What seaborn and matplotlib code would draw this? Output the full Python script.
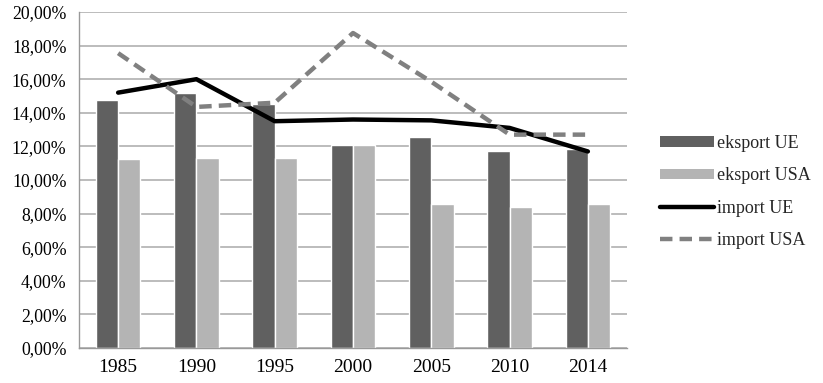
import numpy as np
import pandas as pd
import matplotlib
matplotlib.use("Agg")
import matplotlib.pyplot as plt
import seaborn as sns
from matplotlib.patches import Patch
from matplotlib.lines import Line2D
from matplotlib.ticker import FuncFormatter, FixedLocator

years = ["1985", "1990", "1995", "2000", "2005", "2010", "2014"]
eksport_ue = [14.76, 15.15, 14.5, 12.1, 12.55, 11.7, 11.85]
eksport_usa = [11.25, 11.3, 11.3, 12.1, 8.57, 8.4, 8.57]
import_ue = [15.2, 16.0, 13.5, 13.6, 13.55, 13.1, 11.7]
import_usa = [17.55, 14.35, 14.6, 18.75, 15.85, 12.7, 12.7]
labels = ["eksport UE", "eksport USA", "import UE", "import USA"]

sns.set_theme(style="white")
plt.rcParams["font.family"] = ["Liberation Serif", "DejaVu Serif"]

df = pd.DataFrame({
    "year": years * 2,
    "value": eksport_ue + eksport_usa,
    "series": [labels[0]] * len(years) + [labels[1]] * len(years),
})

fig = plt.figure(figsize=(8.23, 3.83), dpi=100)
ax = fig.add_axes([79 / 823, 1 - 348 / 383, (627 - 79) / 823, (348 - 12) / 383])

c_dark = "#606060"
c_light = "#b4b4b4"
sns.barplot(data=df, x="year", y="value", hue="series", order=years,
            hue_order=labels[:2], palette=[c_dark, c_light], width=0.57,
            gap=0, saturation=1, ax=ax, legend=False, zorder=2)

dash = [2.8, 1.6]
xpos = np.arange(len(years))
sns.lineplot(x=xpos, y=import_ue, color="black", linewidth=3.2, ax=ax, zorder=3)
sns.lineplot(x=xpos, y=import_usa, color="#808080", linewidth=3.2, ax=ax, zorder=3)
ax.lines[-1].set_dashes(dash)

ax.set_xlim(-0.5, len(years) - 0.5)
ax.set_ylim(0, 20)
ax.set_yticks(np.arange(0, 20.01, 2))
ax.yaxis.set_major_formatter(FuncFormatter(lambda v, p: f"{v:.2f}".replace(".", ",") + "%"))
ax.yaxis.grid(True, color="#b0b0b0", linewidth=1.2, zorder=0)
ax.set_axisbelow(True)
ax.set_xlabel("")
ax.set_ylabel("")

for s in ["top", "right"]:
    ax.spines[s].set_visible(False)
for s in ["left", "bottom"]:
    ax.spines[s].set_color("#999999")
    ax.spines[s].set_linewidth(1.0)

ax.tick_params(axis="x", which="major", length=0, pad=8, labelsize=14, colors="black")
ax.xaxis.set_minor_locator(FixedLocator(np.arange(-0.5, len(years), 1)))
ax.tick_params(axis="x", which="minor", length=6, color="#999999", width=1, direction="out")
ax.tick_params(axis="y", which="major", length=6, width=1, labelsize=12.8,
               pad=3, direction="out", colors="#999999", labelcolor="black")

handles = [
    Patch(facecolor=c_dark, edgecolor="none"),
    Patch(facecolor=c_light, edgecolor="none"),
    Line2D([0], [0], color="black", linewidth=3.2),
    Line2D([0], [0], color="#808080", linewidth=3.2, dashes=dash),
]
fig.legend(handles, labels, loc="center left", bbox_to_anchor=(653 / 823, 1 - 192 / 383),
           frameon=False, fontsize=13, handlelength=3.0, handleheight=0.5,
           labelspacing=0.85, handletextpad=0.15, borderaxespad=0)

fig.savefig("out.png", dpi=100)
